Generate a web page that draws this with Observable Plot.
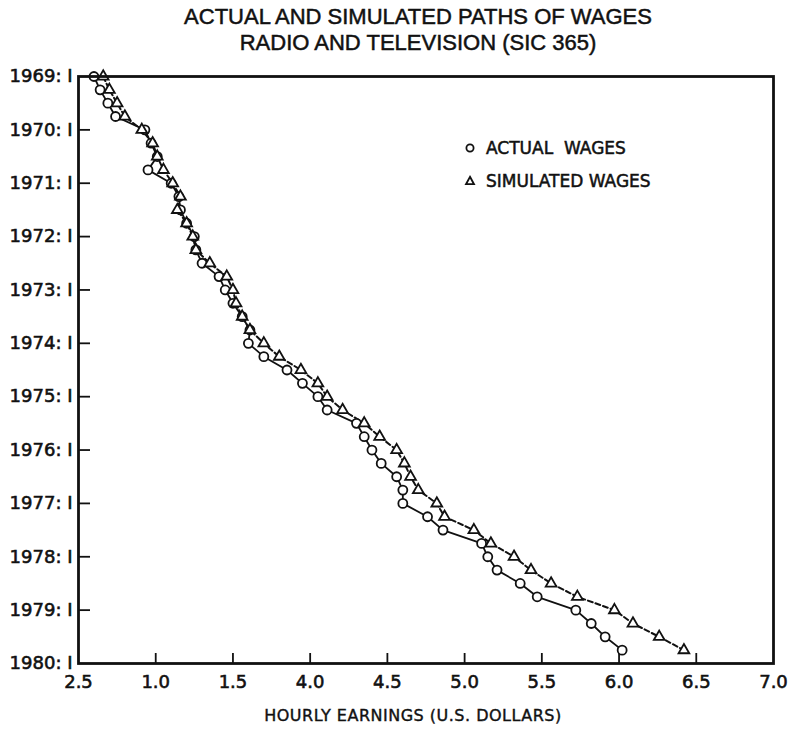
<!DOCTYPE html>
<html>
<head>
<meta charset="utf-8">
<script src="https://cdn.jsdelivr.net/npm/d3@7"></script>
<script src="https://cdn.jsdelivr.net/npm/@observablehq/plot@0.6"></script>
<style>
  html, body { margin: 0; padding: 0; background: #fff; }
  body { width: 800px; height: 733px; overflow: hidden; position: relative; font-family: "DejaVu Sans", sans-serif; color: #111; }
  #title { position: absolute; left: 0; top: 4px; width: 836px; text-align: center; font-family: "Liberation Sans", Arial, sans-serif; font-size: 22px; line-height: 26px; color: #111; -webkit-text-stroke: 0.5px #111; }
  #chart { position: absolute; left: 0; top: 60px; }
  #chart svg g[aria-label="x-axis tick label"] text,
  #chart svg g[aria-label="y-axis tick label"] text { stroke: #111; stroke-width: 0.6px; }
  .leg { position: absolute; font-size: 17px; line-height: 20px; white-space: pre; -webkit-text-stroke: 0.5px #111; }
  .legsym { position: absolute; }
  #xlabel { position: absolute; left: 0; top: 705px; width: 826px; text-align: center; font-size: 16px; letter-spacing: 0.5px; line-height: 22px; -webkit-text-stroke: 0.4px #111; }
</style>
</head>
<body>
<div id="title">ACTUAL AND SIMULATED PATHS OF WAGES<br>RADIO AND TELEVISION (SIC 365)</div>
<div id="chart"></div>
<svg class="legsym" style="left:462px;top:140px" width="16" height="16"><circle cx="8" cy="8" r="3.6" fill="white" stroke="#111" stroke-width="1.8"/></svg>
<div class="leg" style="left:486px;top:138px">ACTUAL  WAGES</div>
<svg class="legsym" style="left:462px;top:173px" width="16" height="16"><path d="M8,3.8 L12,11.2 L4,11.2 Z" fill="white" stroke="#111" stroke-width="1.8"/></svg>
<div class="leg" style="left:486px;top:171px">SIMULATED WAGES</div>
<div id="xlabel">HOURLY EARNINGS (U.S. DOLLARS)</div>
<script>
// Quarters 1969:I ... 1979:IV
const quarterLabels = [
  "1969:I","1969:II","1969:III","1969:IV","1970:I","1970:II","1970:III","1970:IV",
  "1971:I","1971:II","1971:III","1971:IV","1972:I","1972:II","1972:III","1972:IV",
  "1973:I","1973:II","1973:III","1973:IV","1974:I","1974:II","1974:III","1974:IV",
  "1975:I","1975:II","1975:III","1975:IV","1976:I","1976:II","1976:III","1976:IV",
  "1977:I","1977:II","1977:III","1977:IV","1978:I","1978:II","1978:III","1978:IV",
  "1979:I","1979:II","1979:III","1979:IV"
];
const actualWages = [
  2.60, 2.64, 2.69, 2.74, 2.93, 2.97, 3.01, 2.95,
  3.10, 3.15, 3.16, 3.20, 3.25, 3.26, 3.30, 3.41,
  3.45, 3.50, 3.56, 3.61, 3.60, 3.70, 3.85, 3.95,
  4.05, 4.11, 4.30, 4.35, 4.40, 4.46, 4.56, 4.60,
  4.60, 4.76, 4.86, 5.11, 5.15, 5.21, 5.36, 5.47,
  5.72, 5.82, 5.91, 6.02
];
const simulatedWages = [
  2.66, 2.70, 2.75, 2.80, 2.91, 2.98, 3.01, 3.05,
  3.11, 3.16, 3.14, 3.20, 3.24, 3.26, 3.35, 3.46,
  3.50, 3.52, 3.56, 3.61, 3.70, 3.80, 3.94, 4.05,
  4.11, 4.21, 4.35, 4.45, 4.56, 4.61, 4.65, 4.70,
  4.82, 4.87, 5.06, 5.17, 5.32, 5.43, 5.56, 5.73,
  5.97, 6.09, 6.26, 6.42
];
const xTickValues = [2.5, 3.0, 3.5, 4.0, 4.5, 5.0, 5.5, 6.0, 6.5, 7.0];
const xTickLabels = ["2.5", "1.0", "1.5", "4.0", "4.5", "5.0", "5.5", "6.0", "6.5", "7.0"];
const yTickYears = [1969, 1970, 1971, 1972, 1973, 1974, 1975, 1976, 1977, 1978, 1979, 1980];

const romans = {I: 0, II: 1, III: 2, IV: 3};
const rows = quarterLabels.map((q, i) => {
  const [yr, r] = q.split(":");
  return { t: +yr + romans[r] / 4, actual: actualWages[i], simulated: simulatedWages[i] };
});

const W = 800, H = 640, mL = 78, mR = 27, mT = 16, mB = 37;
const plotW = W - mL - mR, plotH = H - mT - mB;
const ink = "#111";

const chart = Plot.plot({
  width: W, height: H,
  marginLeft: mL, marginRight: mR, marginTop: mT, marginBottom: mB,
  style: { fontFamily: "DejaVu Sans, sans-serif", fontSize: "17px", color: ink, background: "white", overflow: "visible" },
  x: { domain: [2.5, 7.0] },
  y: { domain: [1969, 1980], reverse: true },
  marks: [
    Plot.tickX(xTickValues.slice(1, -1), { x: d => d, insetTop: plotH - 10, stroke: ink, strokeWidth: 1.8 }),
    Plot.tickY(yTickYears.slice(1, -1), { y: d => d, insetRight: plotW - 12, stroke: ink, strokeWidth: 1.8 }),
    Plot.axisX({ ticks: xTickValues, tickSize: 0, tickPadding: 12, label: null, fontSize: 18,
      tickFormat: d => xTickLabels[xTickValues.findIndex(v => Math.abs(v - d) < 1e-9)] }),
    Plot.axisY({ ticks: yTickYears, tickSize: 0, tickPadding: 6, label: null, fontSize: 18,
      tickFormat: d => `${d}: I` }),
    Plot.line(rows, { x: "actual", y: "t", stroke: ink, strokeWidth: 1.8 }),
    Plot.line(rows, { x: "simulated", y: "t", stroke: ink, strokeWidth: 2, strokeDasharray: "5,3" }),
    Plot.dot(rows, { x: "actual", y: "t", r: 4.5, stroke: ink, fill: "white", strokeWidth: 1.8 }),
    Plot.dot(rows, { x: "simulated", y: "t", symbol: "triangle", r: 4, stroke: ink, fill: "white", strokeWidth: 1.8 }),
    Plot.frame({ stroke: ink, strokeWidth: 2.8 })
  ]
});
document.getElementById("chart").appendChild(chart);
</script>
</body>
</html>
